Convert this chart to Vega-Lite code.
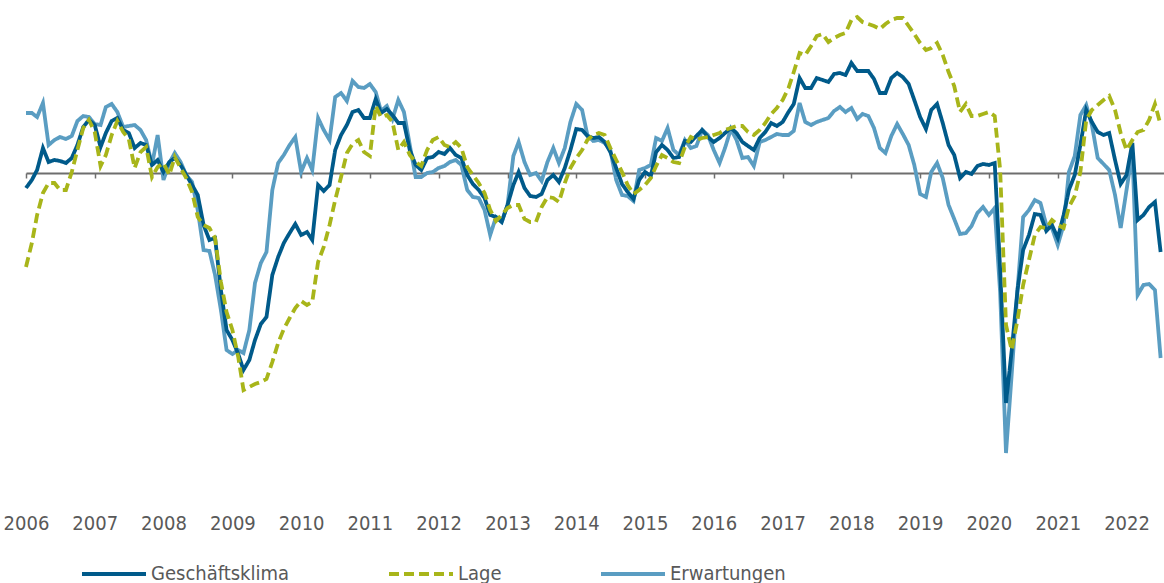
{
  "$schema": "https://vega.github.io/schema/vega-lite/v6.json",
  "width": 1138,
  "height": 500,
  "autosize": {"type": "none"},
  "padding": {"left": 26, "top": 0, "right": 0, "bottom": 83},
  "background": "white",
  "config": {
    "view": {"stroke": null},
    "font": "Liberation Sans Narrow, Arial Narrow, DejaVu Sans Condensed, sans-serif"
  },
  "datasets": {
    "ifo": [
      {"d":"2006-01-01","K":-3.0,"L":-18.8,"E":12.0},
      {"d":"2006-02-01","K":-1.4,"L":-14.0,"E":12.0},
      {"d":"2006-03-01","K":0.6,"L":-8.4,"E":11.2},
      {"d":"2006-04-01","K":5.0,"L":-4.0,"E":14.0},
      {"d":"2006-05-01","K":2.2,"L":-2.0,"E":5.6},
      {"d":"2006-06-01","K":2.6,"L":-2.0,"E":6.6},
      {"d":"2006-07-01","K":2.4,"L":-3.4,"E":7.2},
      {"d":"2006-08-01","K":2.0,"L":-3.4,"E":6.8},
      {"d":"2006-09-01","K":3.0,"L":0.2,"E":7.4},
      {"d":"2006-10-01","K":5.6,"L":4.6,"E":10.4},
      {"d":"2006-11-01","K":9.2,"L":9.0,"E":11.4},
      {"d":"2006-12-01","K":10.6,"L":10.6,"E":11.2},
      {"d":"2007-01-01","K":9.6,"L":8.2,"E":9.8},
      {"d":"2007-02-01","K":5.2,"L":1.4,"E":9.6},
      {"d":"2007-03-01","K":8.0,"L":3.6,"E":13.2},
      {"d":"2007-04-01","K":10.4,"L":7.6,"E":13.8},
      {"d":"2007-05-01","K":11.0,"L":10.4,"E":12.2},
      {"d":"2007-06-01","K":8.6,"L":8.2,"E":9.2},
      {"d":"2007-07-01","K":8.0,"L":6.8,"E":9.4},
      {"d":"2007-08-01","K":5.0,"L":1.0,"E":9.6},
      {"d":"2007-09-01","K":6.0,"L":4.2,"E":8.6},
      {"d":"2007-10-01","K":5.6,"L":5.2,"E":6.6},
      {"d":"2007-11-01","K":1.6,"L":-0.8,"E":1.6},
      {"d":"2007-12-01","K":2.6,"L":1.2,"E":7.6},
      {"d":"2008-01-01","K":0.2,"L":2.0,"E":-1.4},
      {"d":"2008-02-01","K":2.2,"L":-0.4,"E":2.0},
      {"d":"2008-03-01","K":3.0,"L":3.2,"E":4.0},
      {"d":"2008-04-01","K":1.6,"L":1.0,"E":2.2},
      {"d":"2008-05-01","K":-0.4,"L":-1.0,"E":-0.4},
      {"d":"2008-06-01","K":-2.4,"L":-3.8,"E":-1.8},
      {"d":"2008-07-01","K":-4.4,"L":-8.8,"E":-7.4},
      {"d":"2008-08-01","K":-10.4,"L":-10.4,"E":-15.4},
      {"d":"2008-09-01","K":-13.4,"L":-11.0,"E":-15.6},
      {"d":"2008-10-01","K":-13.0,"L":-13.0,"E":-20.4},
      {"d":"2008-11-01","K":-23.4,"L":-21.8,"E":-27.4},
      {"d":"2008-12-01","K":-31.4,"L":-27.8,"E":-35.4},
      {"d":"2009-01-01","K":-33.4,"L":-31.4,"E":-36.2},
      {"d":"2009-02-01","K":-36.2,"L":-36.8,"E":-35.4},
      {"d":"2009-03-01","K":-39.4,"L":-43.4,"E":-36.0},
      {"d":"2009-04-01","K":-37.4,"L":-42.8,"E":-31.4},
      {"d":"2009-05-01","K":-33.4,"L":-42.2,"E":-22.0},
      {"d":"2009-06-01","K":-30.2,"L":-41.8,"E":-18.0},
      {"d":"2009-07-01","K":-28.8,"L":-41.2,"E":-15.8},
      {"d":"2009-08-01","K":-20.4,"L":-37.8,"E":-3.4},
      {"d":"2009-09-01","K":-16.8,"L":-34.0,"E":2.0},
      {"d":"2009-10-01","K":-14.0,"L":-31.2,"E":3.6},
      {"d":"2009-11-01","K":-12.0,"L":-29.0,"E":5.6},
      {"d":"2009-12-01","K":-10.2,"L":-27.0,"E":7.2},
      {"d":"2010-01-01","K":-12.4,"L":-25.6,"E":0.2},
      {"d":"2010-02-01","K":-11.8,"L":-26.4,"E":3.0},
      {"d":"2010-03-01","K":-13.4,"L":-25.8,"E":0.6},
      {"d":"2010-04-01","K":-2.4,"L":-17.8,"E":11.0},
      {"d":"2010-05-01","K":-3.6,"L":-14.8,"E":8.6},
      {"d":"2010-06-01","K":-2.4,"L":-10.4,"E":6.6},
      {"d":"2010-07-01","K":4.6,"L":-5.4,"E":15.2},
      {"d":"2010-08-01","K":7.6,"L":-0.8,"E":16.0},
      {"d":"2010-09-01","K":9.6,"L":4.0,"E":14.4},
      {"d":"2010-10-01","K":12.2,"L":5.8,"E":18.4},
      {"d":"2010-11-01","K":12.6,"L":6.6,"E":17.2},
      {"d":"2010-12-01","K":11.0,"L":4.2,"E":17.0},
      {"d":"2011-01-01","K":11.0,"L":3.4,"E":17.8},
      {"d":"2011-02-01","K":14.8,"L":13.4,"E":16.2},
      {"d":"2011-03-01","K":12.0,"L":11.2,"E":12.4},
      {"d":"2011-04-01","K":12.8,"L":11.6,"E":13.4},
      {"d":"2011-05-01","K":11.6,"L":10.2,"E":10.8},
      {"d":"2011-06-01","K":10.0,"L":4.6,"E":14.6},
      {"d":"2011-07-01","K":10.0,"L":6.2,"E":12.2},
      {"d":"2011-08-01","K":4.6,"L":3.6,"E":5.6},
      {"d":"2011-09-01","K":1.6,"L":2.2,"E":-0.8},
      {"d":"2011-10-01","K":0.6,"L":1.4,"E":-0.8},
      {"d":"2011-11-01","K":3.0,"L":4.6,"E":0.0},
      {"d":"2011-12-01","K":3.2,"L":6.6,"E":0.2},
      {"d":"2012-01-01","K":4.2,"L":7.2,"E":1.0},
      {"d":"2012-02-01","K":3.8,"L":5.6,"E":1.4},
      {"d":"2012-03-01","K":5.0,"L":5.2,"E":2.2},
      {"d":"2012-04-01","K":3.6,"L":6.2,"E":2.6},
      {"d":"2012-05-01","K":3.0,"L":5.0,"E":1.6},
      {"d":"2012-06-01","K":-0.4,"L":1.2,"E":-3.4},
      {"d":"2012-07-01","K":-2.2,"L":-0.4,"E":-4.8},
      {"d":"2012-08-01","K":-3.4,"L":-2.0,"E":-5.0},
      {"d":"2012-09-01","K":-5.0,"L":-4.0,"E":-7.4},
      {"d":"2012-10-01","K":-8.4,"L":-7.4,"E":-12.4},
      {"d":"2012-11-01","K":-8.8,"L":-9.6,"E":-8.8},
      {"d":"2012-12-01","K":-9.8,"L":-8.4,"E":-9.8},
      {"d":"2013-01-01","K":-6.4,"L":-7.0,"E":-6.4},
      {"d":"2013-02-01","K":-2.4,"L":-6.4,"E":3.4},
      {"d":"2013-03-01","K":0.2,"L":-6.4,"E":6.2},
      {"d":"2013-04-01","K":-3.0,"L":-9.2,"E":2.2},
      {"d":"2013-05-01","K":-4.6,"L":-9.8,"E":-0.4},
      {"d":"2013-06-01","K":-4.8,"L":-9.8,"E":0.0},
      {"d":"2013-07-01","K":-4.2,"L":-6.8,"E":-1.6},
      {"d":"2013-08-01","K":-1.4,"L":-4.8,"E":2.2},
      {"d":"2013-09-01","K":-0.4,"L":-5.0,"E":5.0},
      {"d":"2013-10-01","K":-1.8,"L":-5.8,"E":2.0},
      {"d":"2013-11-01","K":1.0,"L":-2.0,"E":5.0},
      {"d":"2013-12-01","K":4.6,"L":1.0,"E":10.2},
      {"d":"2014-01-01","K":8.8,"L":3.0,"E":13.8},
      {"d":"2014-02-01","K":8.6,"L":4.6,"E":12.6},
      {"d":"2014-03-01","K":7.4,"L":6.6,"E":7.6},
      {"d":"2014-04-01","K":7.0,"L":7.6,"E":6.4},
      {"d":"2014-05-01","K":7.2,"L":8.0,"E":6.6},
      {"d":"2014-06-01","K":6.2,"L":7.6,"E":6.0},
      {"d":"2014-07-01","K":4.2,"L":5.0,"E":4.6},
      {"d":"2014-08-01","K":1.0,"L":2.6,"E":-1.4},
      {"d":"2014-09-01","K":-2.2,"L":0.2,"E":-4.4},
      {"d":"2014-10-01","K":-3.8,"L":-2.4,"E":-4.6},
      {"d":"2014-11-01","K":-5.2,"L":-4.2,"E":-5.6},
      {"d":"2014-12-01","K":-1.4,"L":-3.4,"E":0.6},
      {"d":"2015-01-01","K":0.2,"L":-2.4,"E":1.0},
      {"d":"2015-02-01","K":-0.6,"L":-1.0,"E":1.6},
      {"d":"2015-03-01","K":4.2,"L":1.4,"E":7.0},
      {"d":"2015-04-01","K":5.6,"L":3.6,"E":6.4},
      {"d":"2015-05-01","K":4.6,"L":3.0,"E":9.0},
      {"d":"2015-06-01","K":3.0,"L":2.2,"E":4.6},
      {"d":"2015-07-01","K":3.2,"L":2.0,"E":3.6},
      {"d":"2015-08-01","K":6.4,"L":5.2,"E":6.6},
      {"d":"2015-09-01","K":6.2,"L":7.2,"E":5.0},
      {"d":"2015-10-01","K":7.4,"L":6.6,"E":5.4},
      {"d":"2015-11-01","K":8.6,"L":7.0,"E":8.6},
      {"d":"2015-12-01","K":7.2,"L":7.2,"E":7.6},
      {"d":"2016-01-01","K":6.2,"L":7.6,"E":4.6},
      {"d":"2016-02-01","K":7.0,"L":8.0,"E":2.0},
      {"d":"2016-03-01","K":8.0,"L":8.6,"E":5.0},
      {"d":"2016-04-01","K":9.0,"L":9.0,"E":8.8},
      {"d":"2016-05-01","K":8.0,"L":9.4,"E":6.6},
      {"d":"2016-06-01","K":6.2,"L":9.4,"E":3.0},
      {"d":"2016-07-01","K":5.4,"L":8.2,"E":3.2},
      {"d":"2016-08-01","K":4.6,"L":7.6,"E":1.4},
      {"d":"2016-09-01","K":7.0,"L":8.6,"E":6.2},
      {"d":"2016-10-01","K":8.2,"L":10.0,"E":6.6},
      {"d":"2016-11-01","K":10.0,"L":11.8,"E":7.2},
      {"d":"2016-12-01","K":9.4,"L":13.0,"E":7.8},
      {"d":"2017-01-01","K":10.2,"L":14.6,"E":7.6},
      {"d":"2017-02-01","K":12.2,"L":17.0,"E":7.6},
      {"d":"2017-03-01","K":13.8,"L":20.2,"E":8.4},
      {"d":"2017-04-01","K":19.0,"L":24.0,"E":14.0},
      {"d":"2017-05-01","K":17.0,"L":23.6,"E":10.2},
      {"d":"2017-06-01","K":17.0,"L":25.4,"E":9.6},
      {"d":"2017-07-01","K":19.0,"L":27.4,"E":10.2},
      {"d":"2017-08-01","K":18.6,"L":27.8,"E":10.6},
      {"d":"2017-09-01","K":18.2,"L":26.2,"E":11.0},
      {"d":"2017-10-01","K":19.8,"L":27.0,"E":12.4},
      {"d":"2017-11-01","K":20.0,"L":27.6,"E":13.2},
      {"d":"2017-12-01","K":19.6,"L":28.0,"E":12.2},
      {"d":"2018-01-01","K":22.0,"L":30.6,"E":13.0},
      {"d":"2018-02-01","K":20.4,"L":31.2,"E":10.8},
      {"d":"2018-03-01","K":20.4,"L":30.2,"E":11.8},
      {"d":"2018-04-01","K":20.4,"L":29.8,"E":11.4},
      {"d":"2018-05-01","K":18.8,"L":29.4,"E":9.0},
      {"d":"2018-06-01","K":16.0,"L":28.8,"E":5.0},
      {"d":"2018-07-01","K":16.0,"L":29.8,"E":4.0},
      {"d":"2018-08-01","K":19.0,"L":30.6,"E":7.4},
      {"d":"2018-09-01","K":20.0,"L":31.0,"E":9.8},
      {"d":"2018-10-01","K":19.2,"L":31.0,"E":7.8},
      {"d":"2018-11-01","K":17.8,"L":29.4,"E":5.6},
      {"d":"2018-12-01","K":14.6,"L":27.8,"E":1.6},
      {"d":"2019-01-01","K":11.2,"L":26.0,"E":-4.2},
      {"d":"2019-02-01","K":8.8,"L":24.6,"E":-4.8},
      {"d":"2019-03-01","K":12.6,"L":25.0,"E":0.2},
      {"d":"2019-04-01","K":13.8,"L":26.0,"E":2.0},
      {"d":"2019-05-01","K":10.0,"L":23.6,"E":-1.0},
      {"d":"2019-06-01","K":5.6,"L":20.2,"E":-6.4},
      {"d":"2019-07-01","K":3.6,"L":17.4,"E":-9.2},
      {"d":"2019-08-01","K":-1.0,"L":12.2,"E":-12.2},
      {"d":"2019-09-01","K":0.2,"L":13.8,"E":-12.0},
      {"d":"2019-10-01","K":-0.2,"L":11.4,"E":-10.6},
      {"d":"2019-11-01","K":1.4,"L":11.4,"E":-8.0},
      {"d":"2019-12-01","K":1.8,"L":11.8,"E":-6.8},
      {"d":"2020-01-01","K":1.6,"L":12.2,"E":-8.4},
      {"d":"2020-02-01","K":2.0,"L":11.4,"E":-7.0},
      {"d":"2020-03-01","K":-19.4,"L":0.6,"E":-24.0},
      {"d":"2020-04-01","K":-46.0,"L":-30.4,"E":-56.0},
      {"d":"2020-05-01","K":-35.6,"L":-35.4,"E":-40.4},
      {"d":"2020-06-01","K":-23.4,"L":-29.4,"E":-23.4},
      {"d":"2020-07-01","K":-15.4,"L":-22.4,"E":-8.8},
      {"d":"2020-08-01","K":-12.4,"L":-17.4,"E":-7.4},
      {"d":"2020-09-01","K":-8.2,"L":-12.4,"E":-5.4},
      {"d":"2020-10-01","K":-8.4,"L":-10.8,"E":-6.0},
      {"d":"2020-11-01","K":-11.6,"L":-11.0,"E":-10.4},
      {"d":"2020-12-01","K":-10.4,"L":-9.4,"E":-11.0},
      {"d":"2021-01-01","K":-13.0,"L":-10.4,"E":-14.4},
      {"d":"2021-02-01","K":-8.4,"L":-11.0,"E":-10.4},
      {"d":"2021-03-01","K":-3.4,"L":-6.8,"E":0.2},
      {"d":"2021-04-01","K":-0.4,"L":-4.6,"E":3.4},
      {"d":"2021-05-01","K":5.6,"L":0.2,"E":11.6},
      {"d":"2021-06-01","K":12.6,"L":10.6,"E":13.6},
      {"d":"2021-07-01","K":10.2,"L":12.6,"E":9.6},
      {"d":"2021-08-01","K":8.2,"L":13.6,"E":3.0},
      {"d":"2021-09-01","K":7.6,"L":14.6,"E":1.8},
      {"d":"2021-10-01","K":8.0,"L":15.4,"E":0.6},
      {"d":"2021-11-01","K":2.6,"L":12.6,"E":-4.4},
      {"d":"2021-12-01","K":-2.2,"L":8.0,"E":-11.0},
      {"d":"2022-01-01","K":-0.4,"L":4.6,"E":-3.4},
      {"d":"2022-02-01","K":6.0,"L":6.6,"E":4.2},
      {"d":"2022-03-01","K":-9.4,"L":8.2,"E":-24.4},
      {"d":"2022-04-01","K":-8.4,"L":8.6,"E":-22.4},
      {"d":"2022-05-01","K":-6.8,"L":10.6,"E":-22.2},
      {"d":"2022-06-01","K":-5.8,"L":13.8,"E":-23.4},
      {"d":"2022-07-01","K":-15.8,"L":9.6,"E":-37.0}
    ]
  },
  "data": {"name": "ifo"},
  "resolve": {"axis": {"x": "independent"}, "scale": {"x": "shared"}},
  "layer": [
    {
      "mark": {"type": "line", "strokeWidth": 3.8},
      "encoding": {
        "x": {
          "field": "d", "type": "temporal",
          "scale": {"domain": ["2006-01-01", "2022-07-19"], "nice": false},
          "axis": {
            "orient": "bottom",
            "title": null, "format": "%Y",
            "tickCount": {"interval": "year", "step": 1},
            "domain": false, "ticks": false, "tickSize": 0, "grid": false,
            "labelFontSize": 20, "labelColor": "#595959",
            "labelBaseline": "middle", "labelPadding": 23,
            "labelFlush": false, "labelOverlap": false
          }
        },
        "y": {"field": "E", "type": "quantitative", "scale": {"domain": [-65.4, 34.6], "nice": false, "zero": false}, "axis": null},
        "color": {
          "datum": "Erwartungen",
          "scale": {"domain": ["Geschäftsklima", "Lage", "Erwartungen"], "range": ["#005a8a", "#a8b51a", "#5a9dc2"]},
          "legend": {
            "title": null, "orient": "none", "direction": "horizontal",
            "legendX": 54, "legendY": 540,
            "symbolType": "stroke", "symbolSize": 4096, "symbolStrokeWidth": 4,
            "labelFontSize": 20, "labelColor": "#595959", "labelOffset": 3,
            "columnPadding": 91, "padding": 0
          }
        },
        "strokeDash": {
          "datum": "Erwartungen",
          "scale": {"domain": ["Geschäftsklima", "Lage", "Erwartungen"], "range": [[1, 0], [10, 5], [1, 0]]},
          "legend": {
            "title": null, "orient": "none", "direction": "horizontal",
            "legendX": 54, "legendY": 540,
            "symbolType": "stroke", "symbolSize": 4096, "symbolStrokeWidth": 4,
            "labelFontSize": 20, "labelColor": "#595959", "labelOffset": 3,
            "columnPadding": 91, "padding": 0
          }
        }
      }
    },
    {
      "mark": {"type": "line", "strokeWidth": 3.8},
      "encoding": {
        "x": {
          "field": "d", "type": "temporal",
          "axis": {
            "orient": "bottom",
            "title": null, "labels": false, "grid": false,
            "tickCount": {"interval": "year", "step": 1},
            "domain": true, "domainColor": "#6e6e6e", "domainWidth": 2,
            "ticks": true, "tickColor": "#6e6e6e", "tickWidth": 1.5, "tickSize": 5,
            "offset": -327
          }
        },
        "y": {"field": "K", "type": "quantitative"},
        "color": {"datum": "Geschäftsklima"},
        "strokeDash": {"datum": "Geschäftsklima"}
      }
    },
    {
      "mark": {"type": "line", "strokeWidth": 3.8},
      "encoding": {
        "x": {"field": "d", "type": "temporal", "axis": null},
        "y": {"field": "L", "type": "quantitative"},
        "color": {"datum": "Lage"},
        "strokeDash": {"datum": "Lage"}
      }
    }
  ]
}
